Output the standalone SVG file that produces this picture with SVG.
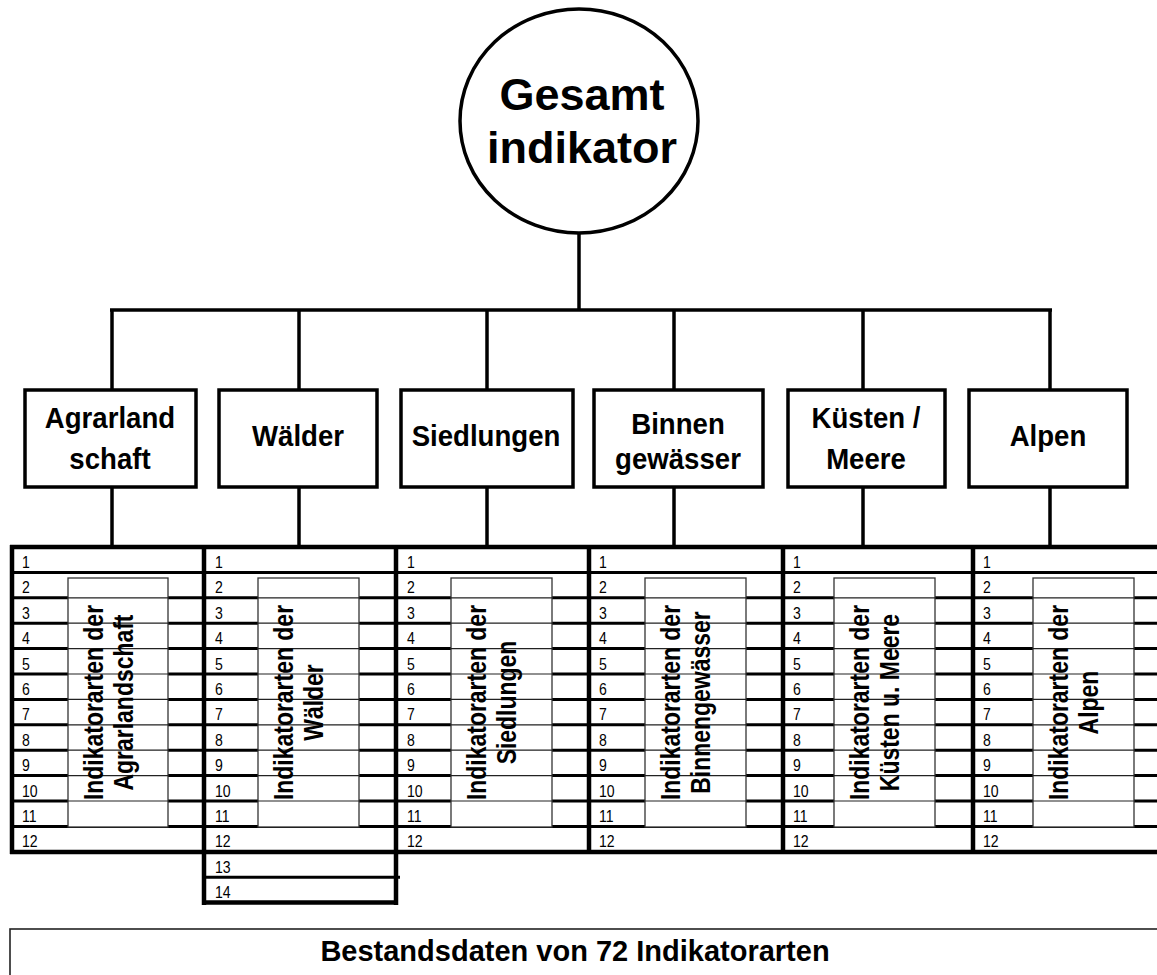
<svg xmlns="http://www.w3.org/2000/svg" width="1157" height="975" viewBox="0 0 1157 975">
<style>
.lbl{font-family:"Liberation Sans",Arial,sans-serif;font-weight:bold;font-size:30px;fill:#000;text-anchor:middle}
.big{font-family:"Liberation Sans",Arial,sans-serif;font-weight:bold;font-size:45px;fill:#000;text-anchor:middle}
.num{font-family:"Liberation Sans",Arial,sans-serif;font-size:16px;fill:#000}
.vt{font-family:"Liberation Sans",Arial,sans-serif;font-weight:bold;font-size:28px;fill:#000;text-anchor:middle}
.box{fill:#fff;stroke:#000;stroke-width:3.5}
.con{stroke:#000;stroke-width:3.5;fill:none}
.row{stroke:#000;stroke-width:3;fill:none}
.col{stroke:#000;stroke-width:4.5;fill:none}
.inner{fill:#fff;stroke:#333;stroke-width:1.3}
.thin{stroke:#222;stroke-width:1.2}
</style>
<rect width="1157" height="975" fill="#fff"/>

<g id="connectors">
<line class="con" x1="579" y1="233" x2="579" y2="310"/>
<line class="con" x1="110" y1="310" x2="1052" y2="310"/>
<line class="con" x1="112" y1="310" x2="112" y2="390"/>
<line class="con" x1="299" y1="310" x2="299" y2="390"/>
<line class="con" x1="487" y1="310" x2="487" y2="390"/>
<line class="con" x1="674" y1="310" x2="674" y2="390"/>
<line class="con" x1="863" y1="310" x2="863" y2="390"/>
<line class="con" x1="1050" y1="310" x2="1050" y2="390"/>
<line class="con" x1="112" y1="487" x2="112" y2="547"/>
<line class="con" x1="299" y1="487" x2="299" y2="547"/>
<line class="con" x1="487" y1="487" x2="487" y2="547"/>
<line class="con" x1="674" y1="487" x2="674" y2="547"/>
<line class="con" x1="863" y1="487" x2="863" y2="547"/>
<line class="con" x1="1050" y1="487" x2="1050" y2="547"/>
</g>

<g id="gesamt">
<ellipse cx="579" cy="121" rx="119" ry="112" fill="#fff" stroke="#000" stroke-width="3.5"/>
<text class="big" x="582" y="110">Gesamt</text>
<text class="big" x="582" y="163">indikator</text>
</g>

<g id="agrar">
<rect class="box" x="25" y="390" width="171" height="97"/>
<g transform="translate(110,0) scale(0.92,1)"><text class="lbl" x="0" y="428">Agrarland</text><text class="lbl" x="0" y="469">schaft</text></g>
</g>
<g id="waelder">
<rect class="box" x="219" y="390" width="158" height="97"/>
<g transform="translate(298,0) scale(0.92,1)"><text class="lbl" x="0" y="446">Wälder</text></g>
</g>
<g id="siedlungen">
<rect class="box" x="401" y="390" width="172" height="97"/>
<g transform="translate(486,0) scale(0.92,1)"><text class="lbl" x="0" y="446">Siedlungen</text></g>
</g>
<g id="binnen">
<rect class="box" x="594" y="390" width="169" height="97"/>
<g transform="translate(678,0) scale(0.92,1)"><text class="lbl" x="0" y="434">Binnen</text><text class="lbl" x="0" y="469">gewässer</text></g>
</g>
<g id="kuesten">
<rect class="box" x="788" y="390" width="157" height="97"/>
<g transform="translate(866,0) scale(0.92,1)"><text class="lbl" x="0" y="428">Küsten /</text><text class="lbl" x="0" y="469">Meere</text></g>
</g>
<g id="alpen">
<rect class="box" x="969" y="390" width="158" height="97"/>
<g transform="translate(1048,0) scale(0.92,1)"><text class="lbl" x="0" y="446">Alpen</text></g>
</g>

<g id="table">
<g id="rows">
<line class="row" x1="10" y1="572.4" x2="1157" y2="572.4"/>
<line class="row" x1="10" y1="597.8" x2="1157" y2="597.8"/>
<line class="row" x1="10" y1="623.2" x2="1157" y2="623.2"/>
<line class="row" x1="10" y1="648.6" x2="1157" y2="648.6"/>
<line class="row" x1="10" y1="674" x2="1157" y2="674"/>
<line class="row" x1="10" y1="699.4" x2="1157" y2="699.4"/>
<line class="row" x1="10" y1="724.8" x2="1157" y2="724.8"/>
<line class="row" x1="10" y1="750.2" x2="1157" y2="750.2"/>
<line class="row" x1="10" y1="775.6" x2="1157" y2="775.6"/>
<line class="row" x1="10" y1="801" x2="1157" y2="801"/>
<line class="row" x1="10" y1="826.4" x2="1157" y2="826.4"/>
<line class="col" x1="10" y1="547" x2="1157" y2="547"/>
<line class="col" x1="10" y1="852" x2="1157" y2="852"/>
<line class="row" x1="204" y1="877.2" x2="400" y2="877.2"/>
<line class="col" x1="202" y1="902.6" x2="398" y2="902.6"/>
</g>
<g id="cols">
<line class="col" x1="12" y1="545" x2="12" y2="854"/>
<line class="col" x1="204" y1="545" x2="204" y2="905"/>
<line class="col" x1="396" y1="545" x2="396" y2="905"/>
<line class="col" x1="589" y1="545" x2="589" y2="854"/>
<line class="col" x1="783" y1="545" x2="783" y2="854"/>
<line class="col" x1="973" y1="545" x2="973" y2="854"/>
</g>
<g id="inner-boxes">
<rect class="inner" x="68" y="578" width="100" height="249"/>
<rect class="inner" x="258" y="578" width="101" height="249"/>
<rect class="inner" x="451" y="578" width="101" height="249"/>
<rect class="inner" x="645" y="578" width="101" height="249"/>
<rect class="inner" x="834" y="578" width="101" height="249"/>
<rect class="inner" x="1033" y="578" width="101" height="249"/>
</g>
<g id="inner-lines">
<path class="thin" d="M68 597.8h100M68 623.2h100M68 648.6h100M68 674h100M68 699.4h100M68 724.8h100M68 750.2h100M68 775.6h100M68 801h100"/>
<path class="thin" d="M258 597.8h101M258 623.2h101M258 648.6h101M258 674h101M258 699.4h101M258 724.8h101M258 750.2h101M258 775.6h101M258 801h101"/>
<path class="thin" d="M451 597.8h101M451 623.2h101M451 648.6h101M451 674h101M451 699.4h101M451 724.8h101M451 750.2h101M451 775.6h101M451 801h101"/>
<path class="thin" d="M645 597.8h101M645 623.2h101M645 648.6h101M645 674h101M645 699.4h101M645 724.8h101M645 750.2h101M645 775.6h101M645 801h101"/>
<path class="thin" d="M834 597.8h101M834 623.2h101M834 648.6h101M834 674h101M834 699.4h101M834 724.8h101M834 750.2h101M834 775.6h101M834 801h101"/>
<path class="thin" d="M1033 597.8h101M1033 623.2h101M1033 648.6h101M1033 674h101M1033 699.4h101M1033 724.8h101M1033 750.2h101M1033 775.6h101M1033 801h101"/>
</g>
<g id="numbers">
<g class="num" transform="translate(22,0) scale(0.88,1)">
<text y="568">1</text><text y="593.4">2</text><text y="618.8">3</text><text y="644.2">4</text><text y="669.6">5</text><text y="695">6</text><text y="720.4">7</text><text y="745.8">8</text><text y="771.2">9</text><text y="796.6">10</text><text y="822">11</text><text y="847.4">12</text>
</g>
<g class="num" transform="translate(215,0) scale(0.88,1)">
<text y="568">1</text><text y="593.4">2</text><text y="618.8">3</text><text y="644.2">4</text><text y="669.6">5</text><text y="695">6</text><text y="720.4">7</text><text y="745.8">8</text><text y="771.2">9</text><text y="796.6">10</text><text y="822">11</text><text y="847.4">12</text><text y="872.8">13</text><text y="898.2">14</text>
</g>
<g class="num" transform="translate(407,0) scale(0.88,1)">
<text y="568">1</text><text y="593.4">2</text><text y="618.8">3</text><text y="644.2">4</text><text y="669.6">5</text><text y="695">6</text><text y="720.4">7</text><text y="745.8">8</text><text y="771.2">9</text><text y="796.6">10</text><text y="822">11</text><text y="847.4">12</text>
</g>
<g class="num" transform="translate(599,0) scale(0.88,1)">
<text y="568">1</text><text y="593.4">2</text><text y="618.8">3</text><text y="644.2">4</text><text y="669.6">5</text><text y="695">6</text><text y="720.4">7</text><text y="745.8">8</text><text y="771.2">9</text><text y="796.6">10</text><text y="822">11</text><text y="847.4">12</text>
</g>
<g class="num" transform="translate(793,0) scale(0.88,1)">
<text y="568">1</text><text y="593.4">2</text><text y="618.8">3</text><text y="644.2">4</text><text y="669.6">5</text><text y="695">6</text><text y="720.4">7</text><text y="745.8">8</text><text y="771.2">9</text><text y="796.6">10</text><text y="822">11</text><text y="847.4">12</text>
</g>
<g class="num" transform="translate(983,0) scale(0.88,1)">
<text y="568">1</text><text y="593.4">2</text><text y="618.8">3</text><text y="644.2">4</text><text y="669.6">5</text><text y="695">6</text><text y="720.4">7</text><text y="745.8">8</text><text y="771.2">9</text><text y="796.6">10</text><text y="822">11</text><text y="847.4">12</text>
</g>
</g>
<g id="vertical-labels">
<g transform="translate(68,702.5) rotate(-90) scale(0.82,1)"><text class="vt" x="0" y="35">Indikatorarten der</text><text class="vt" x="0" y="65">Agrarlandschaft</text></g>
<g transform="translate(258,702.5) rotate(-90) scale(0.82,1)"><text class="vt" x="0" y="35">Indikatorarten der</text><text class="vt" x="0" y="65">Wälder</text></g>
<g transform="translate(451,702.5) rotate(-90) scale(0.82,1)"><text class="vt" x="0" y="35">Indikatorarten der</text><text class="vt" x="0" y="65">Siedlungen</text></g>
<g transform="translate(645,702.5) rotate(-90) scale(0.82,1)"><text class="vt" x="0" y="35">Indikatorarten der</text><text class="vt" x="0" y="65">Binnengewässer</text></g>
<g transform="translate(834,702.5) rotate(-90) scale(0.82,1)"><text class="vt" x="0" y="35">Indikatorarten der</text><text class="vt" x="0" y="65">Küsten u. Meere</text></g>
<g transform="translate(1033,702.5) rotate(-90) scale(0.82,1)"><text class="vt" x="0" y="35">Indikatorarten der</text><text class="vt" x="0" y="65">Alpen</text></g>
</g>
</g>

<g id="bestand">
<rect x="10" y="929" width="1160" height="60" fill="#fff" stroke="#222" stroke-width="1.6"/>
<text class="lbl" x="575" y="961" style="font-size:29px">Bestandsdaten von 72 Indikatorarten</text>
</g>
</svg>
